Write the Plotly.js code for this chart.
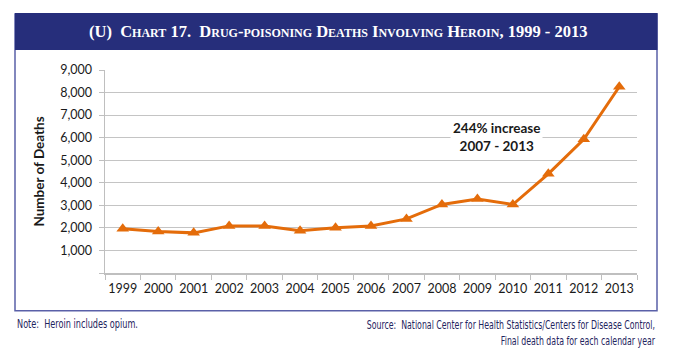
<!DOCTYPE html>
<html>
<head>
<meta charset="utf-8">
<script src="https://cdn.plot.ly/plotly-3.0.1.min.js"></script>
<style>
html,body{margin:0;padding:0;background:#fff;}
#chart{width:679px;height:352px;}
</style>
</head>
<body>
<div id="chart"></div>
<script>
const years = ['1999','2000','2001','2002','2003','2004','2005','2006','2007','2008','2009','2010','2011','2012','2013'];
const deaths = [1960, 1842, 1779, 2089, 2080, 1878, 2009, 2088, 2399, 3041, 3278, 3036, 4397, 5925, 8257];
const yTickVals = [0, 1000, 2000, 3000, 4000, 5000, 6000, 7000, 8000, 9000];
const yTickText = ['', '1,000', '2,000', '3,000', '4,000', '5,000', '6,000', '7,000', '8,000', '9,000'];
const titleText = '(U)  Chart 17.  Drug-poisoning Deaths Involving Heroin, 1999 - 2013';
const yTitle = 'Number of Deaths';
const noteText = 'Note:  Heroin includes opium.';
const sourceText = 'Source:  National Center for Health Statistics/Centers for Disease Control,<br>Final death data for each calendar year';
const annoText = '<b>244% increase<br>2007 - 2013</b>';

// layout geometry (pixels)
const L = 105, R = 637, T = 70, B = 273.3, W = 679, H = 352;
const px = x => (x - L) / (R - L);
const py = y => (B - y) / (B - T);

const navy = '#262e7b';
const orange = '#e46c0a';
const narrow = '"DejaVu Sans Condensed", "Liberation Sans Narrow", sans-serif';

const trace = {
  x: years, y: deaths, type: 'scatter', mode: 'lines+markers',
  line: {color: orange, width: 3},
  marker: {symbol: 'triangle-up', size: 11, color: orange},
  cliponaxis: false, hoverinfo: 'skip'
};

const layout = {
  width: W, height: H,
  margin: {l: L, r: W - R, t: T, b: H - B},
  paper_bgcolor: '#fff', plot_bgcolor: '#fff',
  showlegend: false,
  font: {family: 'Lato, "Open Sans", sans-serif', size: 12.5, color: '#1a1a1a'},
  xaxis: {
    type: 'category', range: [-0.5, years.length - 0.5], autorange: false,
    tickson: 'boundaries', ticks: 'outside', ticklen: 5, tickangle: 0,
    tickcolor: '#bfbfbf', showline: true, linecolor: '#bfbfbf', linewidth: 1.5,
    showgrid: false, zeroline: false, fixedrange: true,
    ticklabelstandoff: 3,
    tickfont: {size: 12.5, color: '#1a1a1a'}
  },
  yaxis: {
    range: [0, 9000], tickvals: yTickVals, ticktext: yTickText,
    ticks: 'outside', ticklen: 5, tickcolor: '#bfbfbf',
    showline: true, linecolor: '#bfbfbf', linewidth: 1.5,
    showgrid: true, gridcolor: '#c4c4c4', gridwidth: 1.2, zeroline: false,
    ticklabelstandoff: 4,
    tickfont: {size: 12.5, color: '#1a1a1a'},
    title: {text: '<b>' + yTitle + '</b>', font: {size: 13.5, color: '#1a1a1a'}, standoff: 12},
    fixedrange: true
  },
  shapes: [
    {type: 'rect', xref: 'paper', yref: 'paper', x0: px(15), x1: px(657), y0: py(311), y1: py(14),
     line: {color: '#5a60a8', width: 1.5}, fillcolor: 'rgba(0,0,0,0)', layer: 'below'},
    {type: 'rect', xref: 'paper', yref: 'paper', x0: px(15), x1: px(657.5), y0: py(50), y1: py(13),
     line: {width: 0}, fillcolor: navy, layer: 'above'}
  ],
  annotations: [
    {xref: 'paper', yref: 'paper', x: px(338), y: py(31), text: '<b>' + titleText + '</b>',
     showarrow: false, xanchor: 'center', yanchor: 'middle',
     font: {family: '"Liberation Serif", "DejaVu Serif", serif', size: 16.5, color: '#fff', variant: 'small-caps'}},
    {xref: 'paper', yref: 'paper', x: px(496), y: py(137), text: annoText,
     showarrow: false, xanchor: 'center', yanchor: 'middle', bgcolor: '#fff', borderpad: 2,
     font: {family: 'Lato, "Open Sans", sans-serif', size: 13.5, color: '#1a1a1a'}},
    {xref: 'paper', yref: 'paper', x: px(15), y: py(324), text: noteText,
     showarrow: false, xanchor: 'left', yanchor: 'middle',
     font: {family: narrow, size: 12, color: '#1f2560'}},
    {xref: 'paper', yref: 'paper', x: px(657), y: py(333.5), text: sourceText,
     showarrow: false, xanchor: 'right', yanchor: 'middle', align: 'right',
     font: {family: narrow, size: 12, color: '#1f2560'}}
  ]
};

// horizontally condense the footnote texts to mimic the narrow source font
function condense(gd) {
  try {
    const anns = gd.querySelectorAll('.annotation');
    const specs = [{i: 2, width: 121, side: 'left'}, {i: 3, width: 289, side: 'right'}];
    specs.forEach(s => {
      const g = anns[s.i];
      if (!g) return;
      const t = g.querySelector('text.annotation-text');
      if (!t) return;
      const bb = t.getBBox();
      if (!bb.width) return;
      const k = s.width / bb.width;
      const ax = s.side === 'left' ? bb.x : bb.x + bb.width;
      t.setAttribute('transform', 'translate(' + ax + ',0) scale(' + k + ',1) translate(' + (-ax) + ',0)');
    });
  } catch (e) { /* ignore */ }
}

Plotly.newPlot('chart', [trace], layout, {displayModeBar: false, staticPlot: true}).then(condense);
</script>
</body>
</html>
